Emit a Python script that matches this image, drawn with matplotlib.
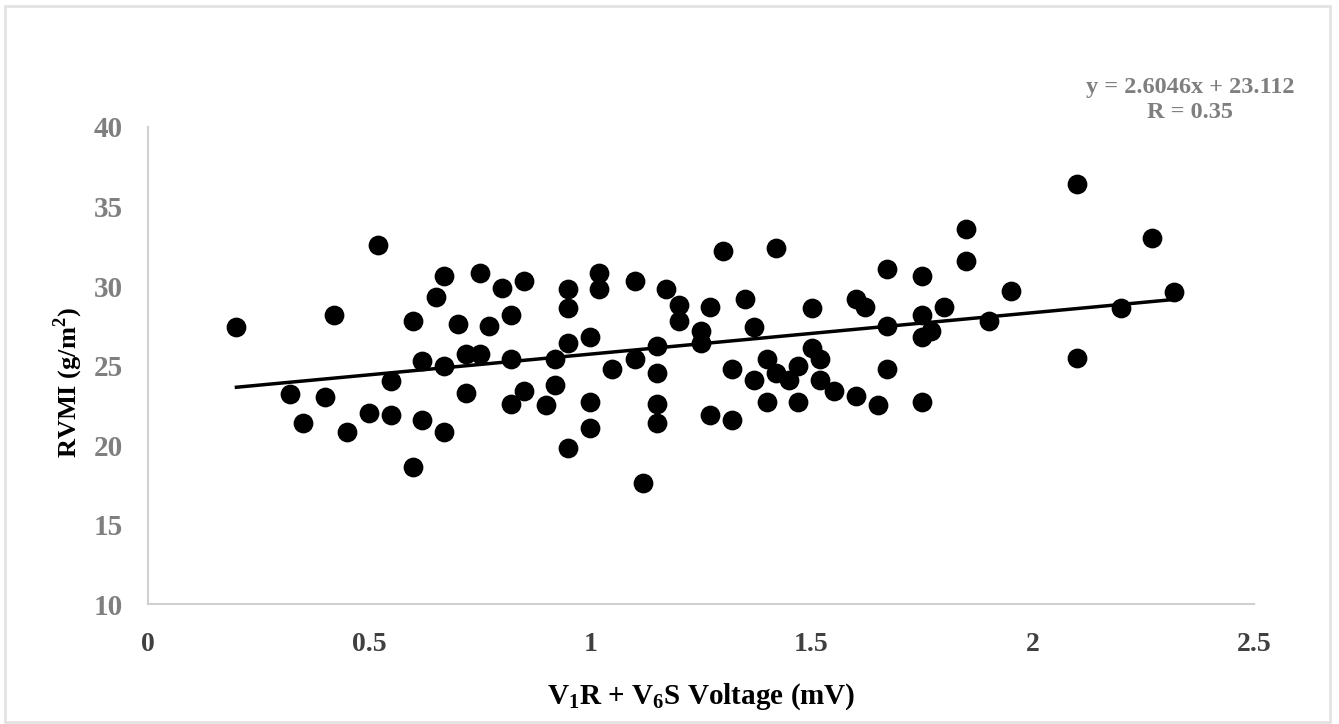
import numpy as np
import matplotlib.pyplot as plt
from matplotlib.patches import Rectangle

plt.rcParams['font.family'] = 'Liberation Serif'
plt.rcParams['font.weight'] = 'bold'
plt.rcParams['mathtext.fontset'] = 'custom'
plt.rcParams['mathtext.rm'] = 'Liberation Serif:bold'
plt.rcParams['mathtext.bf'] = 'Liberation Serif:bold'

# V1R + V6S voltage (mV)
voltage = [0.20, 0.32, 0.35, 0.40, 0.42, 0.45, 0.50, 0.52, 0.55, 0.55,
           0.60, 0.60, 0.62, 0.62, 0.65, 0.67, 0.67, 0.67, 0.70, 0.72,
           0.72, 0.75, 0.75, 0.77, 0.80, 0.82, 0.82, 0.82, 0.85, 0.85,
           0.90, 0.92, 0.92, 0.95, 0.95, 0.95, 0.95, 1.00, 1.00, 1.00,
           1.02, 1.02, 1.05, 1.10, 1.10, 1.12, 1.15, 1.15, 1.15, 1.15,
           1.17, 1.20, 1.20, 1.25, 1.25, 1.27, 1.27, 1.30, 1.32, 1.32,
           1.35, 1.37, 1.37, 1.40, 1.40, 1.42, 1.42, 1.45, 1.47, 1.47,
           1.50, 1.50, 1.52, 1.52, 1.55, 1.60, 1.60, 1.62, 1.65, 1.67,
           1.67, 1.67, 1.75, 1.75, 1.75, 1.75, 1.77, 1.80, 1.85, 1.85,
           1.90, 1.95, 2.10, 2.10, 2.20, 2.27, 2.32]
# RVMI (g/m2)
rvmi = [27.4, 23.2, 21.4, 23.0, 28.2, 20.8, 22.0, 32.6, 24.0, 21.9,
        27.8, 18.6, 25.3, 21.6, 29.3, 25.0, 20.8, 30.6, 27.6, 25.7,
        23.3, 25.7, 30.8, 27.5, 29.9, 28.2, 25.4, 22.6, 30.3, 23.4,
        22.5, 25.4, 23.8, 29.8, 28.6, 26.4, 19.8, 26.8, 22.7, 21.1,
        30.8, 29.8, 24.8, 30.3, 25.4, 17.6, 26.2, 24.5, 22.6, 21.4,
        29.8, 28.8, 27.8, 27.2, 26.4, 28.7, 21.9, 32.2, 24.8, 21.6,
        29.2, 27.4, 24.1, 25.4, 22.7, 32.4, 24.5, 24.1, 25.0, 22.7,
        28.6, 26.1, 25.4, 24.1, 23.4, 29.2, 23.1, 28.7, 22.5, 31.1,
        27.5, 24.8, 30.6, 28.2, 26.8, 22.7, 27.2, 28.7, 33.6, 31.6,
        27.8, 29.7, 36.4, 25.5, 28.6, 33.0, 29.6]

slope = 2.6046
intercept = 23.112

fig = plt.figure(figsize=(13.39, 7.24), dpi=100)
ax = fig.add_axes([0.1105, 0.1657, 0.826, 0.6589])

# light frame round the chart area
fig.patches.append(Rectangle((5 / 1339, 2 / 724), 1325 / 1339, 716 / 724,
                             transform=fig.transFigure, fill=False,
                             edgecolor='#e3e3e3', linewidth=2))

ax.scatter(voltage, rvmi, s=175, color='black', zorder=3)
xs = np.array([min(voltage), max(voltage)])
ax.plot(xs, slope * xs + intercept, color='black', linewidth=2.5, zorder=2)

ax.set_xlim(0, 2.5)
ax.set_ylim(10, 40)
ax.set_xticks([0, 0.5, 1, 1.5, 2, 2.5])
ax.set_xticklabels(['0', '0.5', '1', '1.5', '2', '2.5'])
ax.set_yticks([10, 15, 20, 25, 30, 35, 40])

for s in ['top', 'right']:
    ax.spines[s].set_visible(False)
for s in ['left', 'bottom']:
    ax.spines[s].set_color('#d0d0d0')
    ax.spines[s].set_linewidth(1.5)
ax.tick_params(length=0)
ax.tick_params(axis='x', labelsize=20, labelcolor='#404040', pad=20)
ax.tick_params(axis='y', labelsize=21, labelcolor='#7f7f7f', pad=18)

ax.set_xlabel(r'V$_\mathbf{1}$R + V$_\mathbf{6}$S Voltage (mV)', fontsize=21,
              fontweight='bold', labelpad=18)
ax.set_ylabel(r'RVMI (g/m$^\mathbf{2}$)', fontsize=19, fontweight='bold')
ax.yaxis.set_label_coords(-0.057, 0.465)

fig.text(0.889, 0.862, 'y = 2.6046x + 23.112\nR = 0.35', ha='center', va='center',
         fontsize=17.5, fontweight='bold', color='#7f7f7f', linespacing=1.2)

fig.savefig('out.png', dpi=100)
